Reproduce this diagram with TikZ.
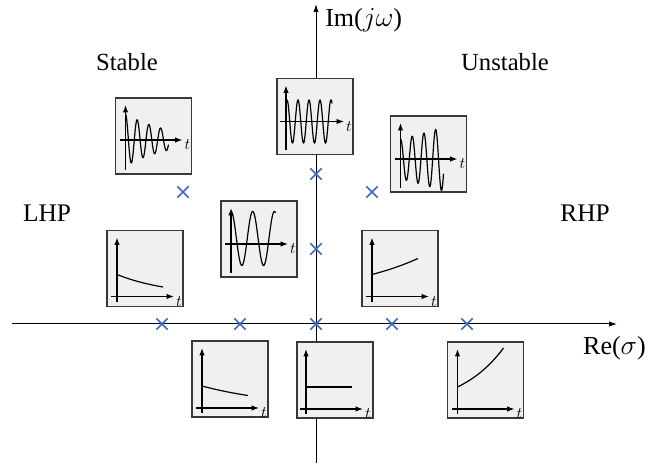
\documentclass[tikz,border=0pt]{standalone}
\usepackage{fontspec}
\setmainfont{Liberation Serif}
\usetikzlibrary{arrows.meta,shapes.misc}
\definecolor{polecol}{HTML}{3A6DB5}
\definecolor{boxfill}{HTML}{F0F0F0}
\definecolor{boxline}{HTML}{383838}
\tikzset{
  respbox/.style={draw=boxline, fill=boxfill, line width=1pt, minimum size=57pt, inner sep=0pt},
  pole/.style={cross out, draw=polecol, line width=1.1pt, minimum size=7.5pt, inner sep=0pt},
  mainaxis/.style={line width=0.75pt, -{Latex[length=6pt,width=4pt]}},
  boxaxis/.style={line width=0.8pt, -{Latex[length=5.5pt,width=4pt]}},
  curve/.style={line width=0.9pt},
  tlab/.style={font=\fontsize{11.5}{11.5}\selectfont, inner sep=0pt},
  biglab/.style={font=\fontsize{19}{19}\selectfont, inner sep=0pt},
  medlab/.style={font=\fontsize{18.5}{18.5}\selectfont, inner sep=0pt},
  axlab/.style={font=\fontsize{19.5}{19.5}\selectfont, inner sep=0pt}
}
\begin{document}
\begin{tikzpicture}[x=0.75pt,y=-0.75pt]
\useasboundingbox (0,0) rectangle (649,473);
% main axes
\coordinate (xl) at (12,324);
\coordinate (xr) at (617,324);
\coordinate (yb) at (316,463);
\coordinate (yt) at (316,4);
\draw[mainaxis] (xl) -- (xr);
\draw[mainaxis] (yb) -- (yt);
% labels
\node[axlab, anchor=west] (im) at (325,20) {Im($j\omega$)};
\node[axlab, anchor=east] (re) at (646,348) {Re($\sigma$)};
\node[medlab] (st) at (127,62) {Stable};
\node[medlab] (un) at (505,62) {Unstable};
\node[biglab] (lhp) at (47,213) {LHP};
\node[biglab] (rhp) at (585,213) {RHP};
% poles
\node[pole] (p1) at (162,324) {};
\node[pole] (p2) at (240,324) {};
\node[pole] (p3) at (316,324) {};
\node[pole] (p4) at (392,324) {};
\node[pole] (p5) at (467,324) {};
\node[pole] (p6) at (316,249) {};
\node[pole] (p7) at (316,174) {};
\node[pole] (p8) at (183,192) {};
\node[pole] (p9) at (372,192) {};
% boxes
\node[respbox] (b1) at (153.5,136) {};
\node[respbox] (b2) at (315,116.5) {};
\node[respbox] (b3) at (428.5,154) {};
\node[respbox] (b4) at (259,239) {};
\node[respbox] (b5) at (145,268.5) {};
\node[respbox] (b6) at (400,268.5) {};
\node[respbox] (b7) at (230,379) {};
\node[respbox] (b8) at (335,380) {};
\node[respbox] (b9) at (485.5,380) {};
% oscillation boxes
\begin{scope}[shift={(b1.center)}]
  \draw[boxaxis] (-28,34) -- (-28,-31);
  \draw[boxaxis] (-34,4) -- (29,4);
  \node[tlab] at (34,9) {$t$};
  \draw[curve, domain=-28:15, samples=160, smooth, variable=\x] plot (\x,{4-26*exp(-0.022*(\x+28))*cos(360*(\x+28)/11.7)});
\end{scope}
\begin{scope}[shift={(b2.center)}]
  \draw[boxaxis] (-29,34) -- (-29,-31);
  \draw[boxaxis] (-35,5) -- (29,5);
  \node[tlab] at (34,10) {$t$};
  \draw[curve, domain=-28:17, samples=160, smooth, variable=\x] plot (\x,{5-21.5*cos(360*(\x+28)/11)});
\end{scope}
\begin{scope}[shift={(b3.center)}]
  \draw[boxaxis] (-28,34) -- (-28,-31);
  \draw[boxaxis] (-34,5) -- (29,5);
  \node[tlab] at (34,10) {$t$};
  \draw[curve, domain=-28:15, samples=160, smooth, variable=\x] plot (\x,{5-20*exp(0.011*(\x+28))*cos(360*(\x+28)/11.7)});
\end{scope}
\begin{scope}[shift={(b4.center)}]
  \draw[boxaxis] (-28,34) -- (-28,-31);
  \draw[boxaxis] (-34,5) -- (29,5);
  \node[tlab] at (34,10) {$t$};
  \draw[curve, domain=-28:16.5, samples=120, smooth, variable=\x] plot (\x,{-0.5-27*cos(360*(\x+28)/21.7)});
\end{scope}
% exponential boxes
\begin{scope}[shift={(b5.center)}]
  \draw[boxaxis] (-28,34) -- (-28,-31);
  \draw[boxaxis] (-34,28) -- (29,28);
  \node[tlab] at (34,33) {$t$};
  \draw[curve, domain=-28:18, samples=60, smooth, variable=\x] plot (\x,{28-22*exp(-0.0183*(\x+28))});
\end{scope}
\begin{scope}[shift={(b6.center)}]
  \draw[boxaxis] (-28,34) -- (-28,-31);
  \draw[boxaxis] (-34,28) -- (29,28);
  \node[tlab] at (34,33) {$t$};
  \draw[curve, domain=-28:18, samples=60, smooth, variable=\x] plot (\x,{28-22*exp(0.0119*(\x+28))});
\end{scope}
\begin{scope}[shift={(b7.center)}]
  \draw[boxaxis] (-28,34) -- (-28,-31);
  \draw[boxaxis] (-34,29) -- (29,29);
  \node[tlab] at (34,34) {$t$};
  \draw[curve, domain=-28:18, samples=60, smooth, variable=\x] plot (\x,{29-22*exp(-0.0123*(\x+28))});
\end{scope}
\begin{scope}[shift={(b8.center)}]
  \draw[boxaxis] (-29,34) -- (-29,-31);
  \draw[boxaxis] (-35,29) -- (28,29);
  \node[tlab] at (33,34) {$t$};
  \draw[curve] (-29,7) -- (17,7);
\end{scope}
\begin{scope}[shift={(b9.center)}]
  \draw[boxaxis] (-28,34) -- (-28,-31);
  \draw[boxaxis] (-34,29) -- (29,29);
  \node[tlab] at (34,34) {$t$};
  \draw[curve, domain=-28:18, samples=60, smooth, variable=\x] plot (\x,{29-22*exp(0.0222*(\x+28))});
\end{scope}
\end{tikzpicture}
\end{document}
